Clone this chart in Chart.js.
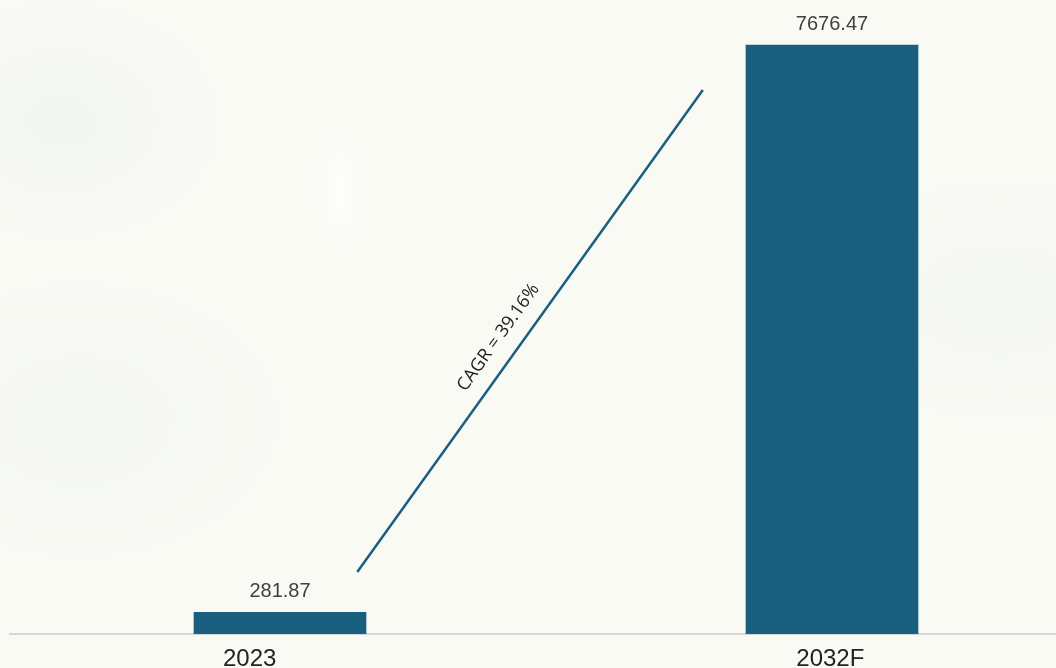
<!DOCTYPE html>
<html>
<head>
<meta charset="utf-8">
<script src="https://cdn.jsdelivr.net/npm/chart.js@4.4.0/dist/chart.umd.min.js"></script>
<style>
  html, body { margin: 0; padding: 0; }
  body {
    width: 1056px; height: 668px; overflow: hidden;
    background:
      radial-gradient(ellipse 25px 55px at 340px 190px, rgba(255,255,255,0.9), rgba(255,255,255,0) 100%),
      radial-gradient(ellipse 160px 120px at 60px 120px, rgba(230,236,236,0.35), rgba(255,255,255,0) 100%),
      radial-gradient(ellipse 200px 140px at 80px 420px, rgba(232,238,236,0.3), rgba(255,255,255,0) 100%),
      radial-gradient(ellipse 200px 120px at 1000px 300px, rgba(232,238,236,0.3), rgba(255,255,255,0) 100%),
      #f9faf4;
  }
  canvas { display: block; }
</style>
</head>
<body>
<canvas id="myChart" width="1056" height="668"></canvas>
<script>
var categories = ['2023', '2032F'];
var values = [281.87, 7676.47];
var cagrText = 'CAGR = 39.16%';
// start and end of the growth line, in axis units
var cagrLine = [{x: 0.14, y: 808}, {x: 0.766, y: 7090}];

var barColor = '#1b5f80';

var labelPlugin = {
    id: 'labels',
    afterDatasetsDraw: function (chart) {
        var ctx = chart.ctx;
        ctx.save();
        // value labels
        var bars = chart.getDatasetMeta(1).data;
        ctx.font = '20px "Liberation Sans", Arial, sans-serif';
        ctx.fillStyle = '#404040';
        ctx.textAlign = 'center';
        ctx.textBaseline = 'bottom';
        bars.forEach(function (bar, i) {
            ctx.fillText(values[i].toFixed(2), bar.x, bar.y - 11);
        });
        // CAGR text along the line
        var pts = chart.getDatasetMeta(0).data;
        var a = pts[0], b = pts[1];
        var dx = b.x - a.x, dy = b.y - a.y;
        var len = Math.sqrt(dx * dx + dy * dy);
        var t = 0.46;
        var mx = a.x + dx * t, my = a.y + dy * t;
        var nx = dy / len, ny = -dx / len;
        if (nx > 0) { nx = -nx; ny = -ny; }
        ctx.translate(mx + nx * 22, my + ny * 22);
        ctx.rotate(Math.atan2(dy, dx));
        ctx.font = '18px "Open Sans", "Liberation Sans", sans-serif';
        ctx.fillStyle = '#1e1e1e';
        ctx.textBaseline = 'middle';
        ctx.fillText(cagrText, 0, 0);
        ctx.restore();
    }
};

document.addEventListener('DOMContentLoaded', function () {
    var ctx = document.getElementById('myChart').getContext('2d');
    new Chart(ctx, {
        type: 'bar',
        data: {
            datasets: [{
                type: 'line',
                data: cagrLine,
                borderColor: barColor,
                borderWidth: 2.5,
                pointRadius: 0,
                fill: false
            }, {
                type: 'bar',
                data: values.map(function (v, i) { return {x: i, y: v}; }),
                backgroundColor: barColor,
                barThickness: 172
            }]
        },
        options: {
            responsive: false,
            animation: false,
            layout: { padding: { left: 10, right: 0, top: 0, bottom: 0 } },
            plugins: {
                legend: { display: false },
                tooltip: { enabled: false }
            },
            scales: {
                x: {
                    type: 'linear',
                    min: -0.48913,
                    max: 1.4058,
                    offset: false,
                    bounds: 'data',
                    grid: { display: false, offset: false },
                    border: { display: true, color: '#d6d6d6', width: 2 },
                    afterBuildTicks: function (scale) {
                        // the first label sits a little left of its bar in the original
                        scale.ticks = categories.map(function (c, i) {
                            return {value: i === 0 ? -0.055 : i - 0.003};
                        });
                    },
                    afterFit: function (scale) { scale.height = 34; },
                    ticks: {
                        autoSkip: false,
                        maxRotation: 0,
                        padding: 3,
                        color: '#222222',
                        font: { family: '"Liberation Sans", Arial, sans-serif', size: 24 },
                        callback: function (v) {
                            var c = categories[Math.round(v)];
                            return c !== undefined ? c : '';
                        }
                    }
                },
                y: {
                    display: false,
                    min: 0,
                    max: 8263
                }
            }
        },
        plugins: [labelPlugin]
    });
});
</script>
</body>
</html>
